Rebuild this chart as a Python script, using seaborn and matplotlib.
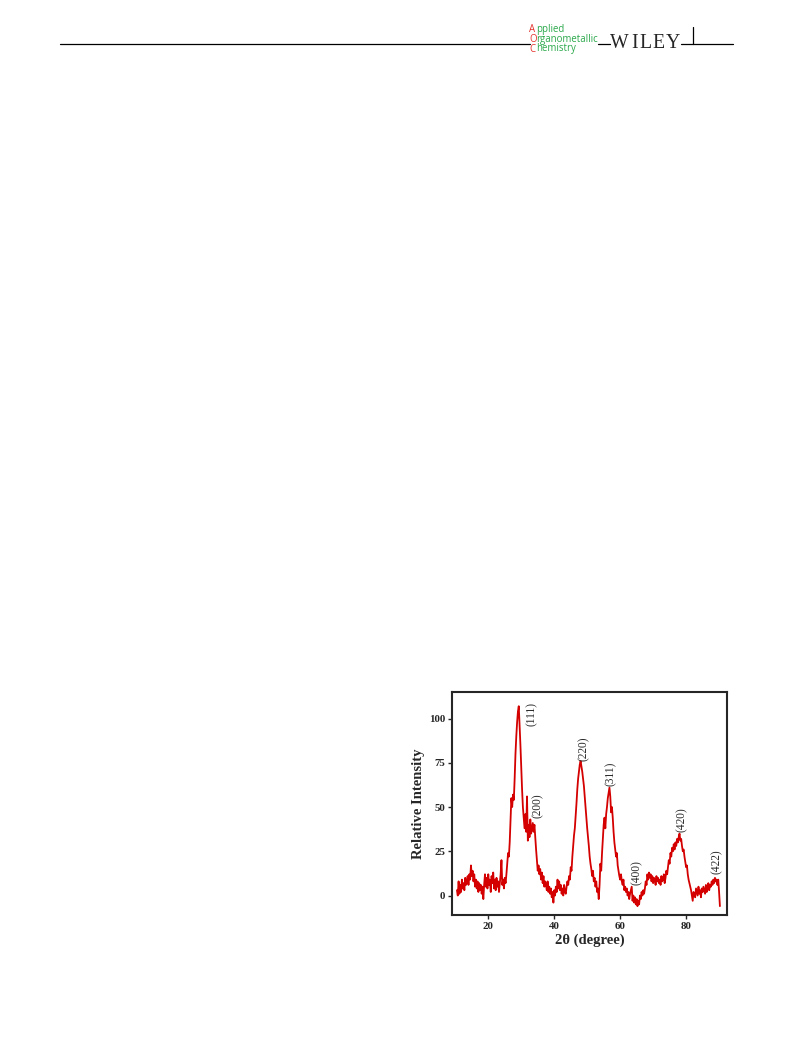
import numpy as np
import pandas as pd
import matplotlib
matplotlib.use("Agg")
import matplotlib.pyplot as plt
from matplotlib.lines import Line2D
import seaborn as sns

# XRD pattern, 2theta from 10.5 to 90.25 in 0.25 steps
two_theta = np.arange(10.5, 90.26, 0.25)
intensity = [
    3, 0, 8, 1, 6, 2, 9, 4, 7, 3, 10, 6, 8, 11, 6, 12, 9, 17, 11, 14,
    8, 12, 5, 9, 4, 8, 2, 7, 3, 6, 1, 5, -2, 6, 12, 5, 10, 4, 12, 6,
    9, 2, 11, 7, 13, 4, 9, 3, 10, 5, 8, 2, 7, 12, 20, 6, 9, 4, 10, 7,
    12, 18, 24, 22, 30, 42, 55, 50, 57, 54, 66, 80, 90, 98, 104, 107, 96, 85, 72, 60,
    50, 44, 38, 46, 36, 56, 31, 40, 33, 43, 35, 38, 41, 36, 40, 33, 26, 20, 14, 17,
    12, 15, 9, 13, 7, 11, 5, 8, 6, 3, 8, 2, 5, 1, 4, -1, 2, -4, 3, 0,
    5, 2, 9, 4, 8, 3, 6, 1, 4, 0, 6, 2, 1, 5, 8, 6, 11, 9, 16, 14,
    22, 28, 34, 38, 45, 52, 60, 66, 70, 74, 76, 73, 70, 66, 62, 56, 50, 44, 38, 33,
    28, 22, 18, 15, 11, 14, 8, 10, 5, 8, 2, 4, -2, 6, 18, 14, 24, 32, 40, 44,
    38, 46, 50, 55, 58, 61, 56, 47, 50, 44, 36, 30, 26, 22, 24, 17, 14, 11, 9, 12,
    8, 6, 9, 3, 5, 2, 4, 0, 2, -2, 1, 3, 5, -3, 0, -4, -1, -5, -2, -6,
    -3, -5, 0, -2, 2, 0, 3, 1, 4, 8, 6, 12, 9, 13, 10, 12, 8, 11, 7, 10,
    9, 6, 11, 8, 10, 7, 9, 6, 11, 8, 9, 12, 7, 10, 14, 12, 16, 20, 18, 24,
    22, 27, 25, 29, 26, 30, 28, 32, 30, 33, 35, 31, 32, 28, 25, 26, 22, 19, 16, 17,
    12, 9, 7, 5, 3, 0, -3, 2, 1, -1, 4, 2, 0, 5, 1, 3, -1, 4, 2, 5,
    3, 1, 6, 2, 4, 7, 3, 6, 5, 8, 6, 9, 7, 10, 8, 9, 6, 9, 2, -6,
]

peak_labels = ["(111)", "(200)", "(220)", "(311)", "(400)", "(420)", "(422)"]
peak_x = [33.1, 34.9, 48.9, 57.2, 64.9, 78.6, 89.3]
peak_y = [96, 44, 76, 62, 6, 36, 12]

df = pd.DataFrame({"two_theta": two_theta, "intensity": intensity})

sns.set_style("ticks")
plt.rcParams["font.family"] = ["Liberation Serif", "DejaVu Serif"]

fig = plt.figure(figsize=(7.93, 10.43), dpi=100)
W, H = 793, 1043

def fx(px):
    return px / W

def fy(py):
    return 1 - py / H

# header of the journal page
fig.add_artist(Line2D([fx(60), fx(530)], [fy(44), fy(44)], color="black", lw=0.9))
fig.add_artist(Line2D([fx(598), fx(610)], [fy(44), fy(44)], color="black", lw=0.9))
fig.add_artist(Line2D([fx(681), fx(733)], [fy(44), fy(44)], color="black", lw=0.9))
fig.add_artist(Line2D([fx(692.5), fx(692.5)], [fy(27), fy(44)], color="black", lw=0.9))

red = "#e5322d"
green = "#2aa84a"
fig.canvas.draw()
renderer = fig.canvas.get_renderer()
hfont = ["Open Sans", "DejaVu Sans"]
# va="baseline" pins the baseline of the last line
t = fig.text(fx(529), fy(51.5), "A\nO\nC", color=red, fontsize=6.9, family=hfont,
             va="baseline", ha="left", linespacing=0.84)
bb = t.get_window_extent(renderer)
fig.text((bb.x1 - 0.8) / W, fy(51.5), "pplied\nrganometallic\nhemistry", color=green,
         fontsize=6.9, family=hfont, va="baseline", ha="left", linespacing=0.84)
for letter, px in [("W", 609.5), ("I", 631), ("L", 639), ("E", 652.5), ("Y", 665.5)]:
    fig.text(fx(px), fy(47.5), letter, fontsize=14.2, va="baseline")

ax = fig.add_axes([fx(452), fy(915), fx(727) - fx(452), fy(692) - fy(915)])
sns.lineplot(data=df, x="two_theta", y="intensity", ax=ax, color="#d40000",
             linewidth=1.3)

for lab, xx, yy in zip(peak_labels, peak_x, peak_y):
    ax.text(xx, yy, lab, rotation=90, ha="center", va="bottom", fontsize=8.3,
            color="#2a2a2a")

ax.set_xlim(9, 92.4)
ax.set_ylim(-11, 115)
ax.set_xticks([20, 40, 60, 80])
ax.set_yticks([0, 25, 50, 75, 100])
ax.tick_params(direction="out", length=3, width=1, labelsize=7.8, pad=2)
for lab in ax.get_xticklabels() + ax.get_yticklabels():
    lab.set_fontweight("bold")
for sp in ax.spines.values():
    sp.set_linewidth(1.5)
ax.set_xlabel("2θ (degree)", fontsize=10.5, fontweight="bold", labelpad=2)
ax.set_ylabel("Relative Intensity", fontsize=10.5, fontweight="bold", labelpad=3)

fig.savefig("out.png", dpi=100)
